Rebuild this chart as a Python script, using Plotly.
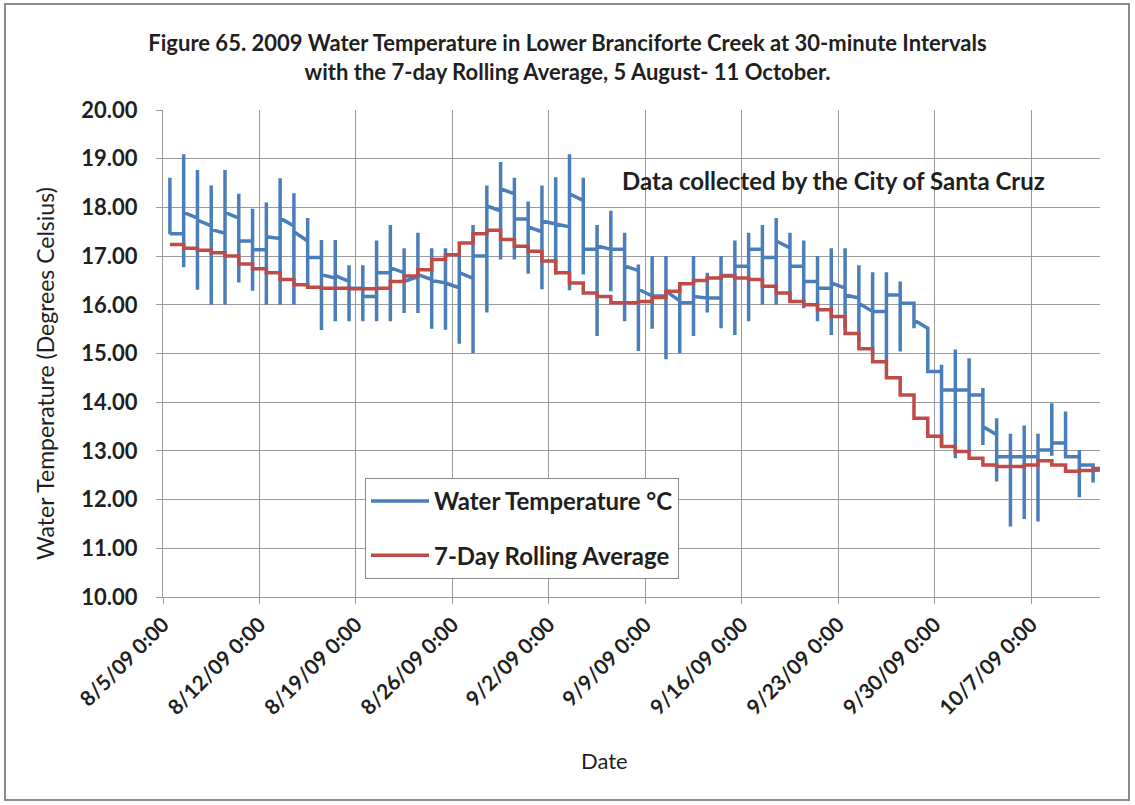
import pandas as pd
import plotly.graph_objects as go

# ---- daily categories -------------------------------------------------------
start = pd.Timestamp("2009-08-05")
n_days = 68
days = pd.date_range(start, periods=n_days, freq="D")
# the date axis puts every reading of a day in the middle of that day's slot
day_centres = days + pd.Timedelta(hours=12)

# ---- water temperature (deg C), per day: midnight start, min, max, midnight end
temp_start = [18.61, 17.46, 17.78, 17.62, 17.47, 17.78, 17.31, 17.13, 17.36, 17.62,
              17.31, 16.97, 16.55, 16.48, 16.34, 16.17, 16.66, 16.66, 16.58, 16.52,
              16.45, 16.35, 16.54, 17.00, 17.93, 18.28, 17.76, 17.50, 17.66, 17.60,
              18.14, 17.14, 17.14, 17.14, 16.70, 16.18, 16.18, 16.08, 16.04, 16.14,
              16.14, 16.60, 16.79, 17.14, 16.97, 17.17, 16.79, 16.48, 16.34, 16.34,
              16.14, 15.86, 15.86, 16.20, 16.03, 15.52, 14.63, 14.25, 14.25, 14.15,
              13.33, 12.88, 12.88, 12.88, 13.02, 13.16, 12.88, 12.71]
temp_min = [17.45, 16.77, 16.31, 16.00, 16.00, 16.46, 16.29, 16.00, 16.00, 16.00,
            16.34, 15.48, 15.66, 15.66, 15.66, 15.66, 15.66, 15.83, 15.83, 15.51,
            15.49, 15.20, 15.01, 15.84, 16.93, 16.93, 16.64, 16.32, 16.62, 16.30,
            16.62, 15.36, 16.28, 15.66, 15.05, 15.51, 14.88, 15.01, 15.36, 15.84,
            15.52, 15.38, 15.66, 16.00, 16.00, 16.07, 15.93, 15.66, 15.38, 15.52,
            15.24, 14.97, 14.83, 15.04, 15.52, 14.63, 13.09, 12.85, 12.99, 13.12,
            12.37, 11.45, 11.60, 11.55, 12.90, 12.85, 12.05, 12.35]
temp_max = [18.61, 19.09, 18.77, 18.45, 18.77, 18.28, 17.97, 18.10, 18.60, 18.29,
            17.78, 17.33, 17.33, 16.81, 16.81, 17.32, 17.64, 17.16, 17.48, 17.16,
            17.16, 17.00, 17.64, 18.45, 18.93, 18.61, 18.12, 18.45, 18.62, 19.09,
            18.61, 17.64, 17.93, 17.48, 16.83, 17.00, 17.00, 16.45, 17.00, 16.66,
            17.00, 17.32, 17.48, 17.64, 17.78, 17.48, 17.32, 17.00, 17.16, 17.16,
            16.81, 16.67, 16.67, 16.48, 16.03, 15.55, 14.77, 15.08, 14.90, 14.29,
            13.67, 13.35, 13.52, 13.35, 13.98, 13.81, 13.02, 12.71]
temp_end = [17.46, 17.90, 17.74, 17.55, 17.90, 17.31, 17.13, 17.40, 17.78, 17.50,
            16.97, 16.62, 16.60, 16.34, 16.17, 16.66, 16.76, 16.48, 16.62, 16.50,
            16.45, 16.66, 17.00, 18.03, 18.38, 17.76, 17.60, 17.72, 17.66, 18.28,
            17.14, 17.21, 17.14, 16.80, 16.32, 16.18, 16.28, 16.04, 16.17, 16.14,
            16.60, 16.79, 17.14, 16.97, 17.31, 16.79, 16.48, 16.34, 16.45, 16.20,
            16.03, 15.86, 16.20, 16.03, 15.69, 14.63, 14.25, 14.25, 14.15, 13.50,
            12.88, 12.88, 12.88, 13.02, 13.16, 12.88, 12.71, 12.60]
temp_final = 12.62          # 10/12 0:00 reading

# ---- 7-day rolling average (deg C), one level per day -----------------------
rolling_avg = [17.24, 17.16, 17.12, 17.07, 17.00, 16.84, 16.74, 16.66, 16.52, 16.41,
               16.36, 16.34, 16.34, 16.33, 16.33, 16.34, 16.48, 16.59, 16.72, 16.93,
               17.03, 17.27, 17.46, 17.53, 17.34, 17.20, 17.10, 16.90, 16.66, 16.45,
               16.24, 16.17, 16.04, 16.04, 16.07, 16.15, 16.28, 16.43, 16.50, 16.55,
               16.59, 16.55, 16.52, 16.38, 16.24, 16.07, 16.00, 15.90, 15.76, 15.41,
               15.10, 14.83, 14.50, 14.15, 13.67, 13.30, 13.09, 12.99, 12.85, 12.71,
               12.68, 12.68, 12.71, 12.80, 12.71, 12.58, 12.60, 12.64]
avg_final = 12.64

# ---- axis ticks --------------------------------------------------------------
tick_dates = days[::7]
tick_labels = ["8/5/09 0:00", "8/12/09 0:00", "8/19/09 0:00", "8/26/09 0:00",
               "9/2/09 0:00", "9/9/09 0:00", "9/16/09 0:00", "9/23/09 0:00",
               "9/30/09 0:00", "10/7/09 0:00"]

# ---- build the traces ---------------------------------------------------------
after_end = day_centres[-1] + pd.Timedelta(days=1)

temp_x, temp_y = [], []
for c, s, lo, hi, e in zip(day_centres, temp_start, temp_min, temp_max, temp_end):
    temp_x += [c, c, c, c]
    temp_y += [s, lo, hi, e]
temp_x.append(after_end)
temp_y.append(temp_final)

avg_x = list(day_centres) + [after_end]
avg_y = list(rolling_avg) + [avg_final]

FONT = "Lato"
TXT = "#1f1f1f"
GRID = "#9a9a9a"

fig = go.Figure()
fig.add_trace(go.Scatter(
    x=temp_x, y=temp_y, mode="lines", name="Water Temperature °C",
    line=dict(color="#4A7EBB", width=3.5), legendgroup="a"))
fig.add_trace(go.Scatter(
    x=avg_x, y=avg_y, mode="lines", name="7-Day Rolling Average",
    line=dict(color="#BE4B48", width=3.5, shape="hv"), legendgroup="b"))

W, H = 1135, 805
L, R, T, B = 163, 35, 110, 208
pw, ph = W - L - R, H - T - B


def px_x(px):
    return (px - L) / pw


def px_y(py):
    return (H - B - py) / ph


fig.update_layout(
    width=W, height=H,
    margin=dict(l=L, r=R, t=T, b=B, pad=0),
    paper_bgcolor="white", plot_bgcolor="white",
    font=dict(family=FONT, color=TXT),
    title=dict(
        text="<b>Figure 65. 2009 Water Temperature in Lower Branciforte Creek at 30-minute Intervals"
             "<br>with the 7-day Rolling Average, 5 August- 11 October.</b>",
        x=0.5, xanchor="center", y=1 - 51 / H, yanchor="middle",
        font=dict(family=FONT, size=22, color=TXT)),
    showlegend=True,
    legend=dict(
        x=px_x(365), y=px_y(478), xanchor="left", yanchor="top",
        bgcolor="white", bordercolor="#8a8a8a", borderwidth=1,
        font=dict(family=FONT, size=24, color=TXT, weight="bold"),
        itemwidth=58, tracegroupgap=20, traceorder="grouped"),
    xaxis=dict(
        type="date",
        range=[start, start + pd.Timedelta(days=n_days)],
        tickmode="array", tickvals=list(tick_dates), ticktext=tick_labels,
        tickangle=-45,
        tickfont=dict(family=FONT, size=21, color=TXT, weight="bold"),
        showgrid=True, gridcolor=GRID, gridwidth=1,
        showline=True, linecolor=GRID, linewidth=1,
        ticks="outside", ticklen=6, tickcolor=GRID,
        zeroline=False),
    yaxis=dict(
        range=[10, 20], dtick=1, tickformat=".2f",
        tickfont=dict(family=FONT, size=22, color=TXT, weight="bold"),
        showgrid=True, gridcolor=GRID, gridwidth=1,
        showline=True, linecolor=GRID, linewidth=1,
        ticks="outside", ticklen=6, tickcolor=GRID,
        ticklabelstandoff=14,
        zeroline=False),
    annotations=[
        dict(text="Data collected by the City of Santa Cruz",
             x=px_x(833), y=px_y(180), xref="paper", yref="paper",
             xanchor="center", yanchor="middle", showarrow=False,
             font=dict(family=FONT, size=24, color=TXT, weight="bold")),
        dict(text="Water Temperature (Degrees Celsius)",
             x=px_x(45), y=px_y(374), xref="paper", yref="paper",
             xanchor="center", yanchor="middle", showarrow=False, textangle=-90,
             font=dict(family=FONT, size=23, color=TXT)),
        dict(text="Date",
             x=px_x(604), y=px_y(760), xref="paper", yref="paper",
             xanchor="center", yanchor="middle", showarrow=False,
             font=dict(family=FONT, size=22, color=TXT)),
    ],
    shapes=[
        dict(type="rect", xref="paper", yref="paper",
             x0=px_x(5), x1=px_x(1129), y0=px_y(800), y1=px_y(4),
             line=dict(color="#8c8c8c", width=2), fillcolor="rgba(0,0,0,0)",
             layer="below"),
    ],
)

fig.write_html("out.html")
